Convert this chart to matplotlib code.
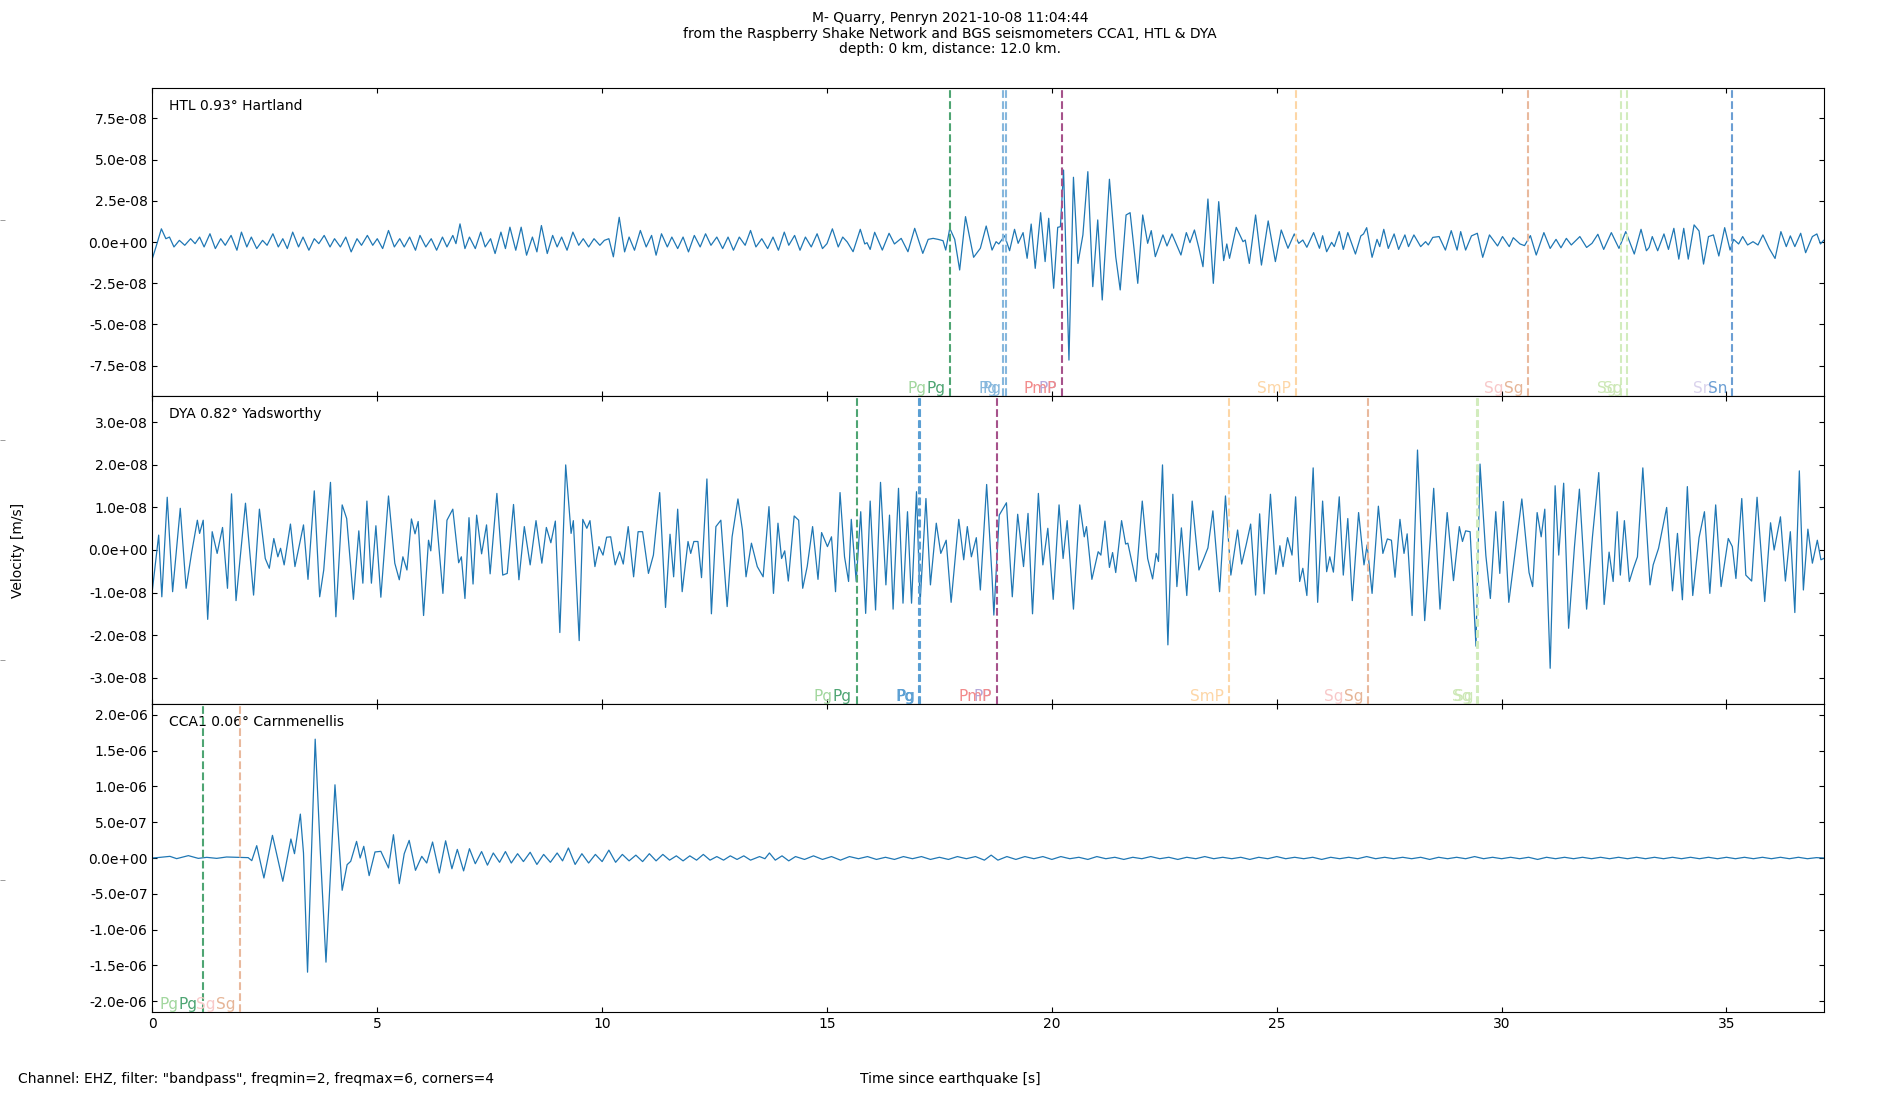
import matplotlib
matplotlib.use("Agg")
import matplotlib.pyplot as plt
from matplotlib.ticker import MultipleLocator, FormatStrFormatter
from matplotlib.transforms import offset_copy
import numpy as np

# ---------------- data ----------------
title_lines = ["M- Quarry, Penryn 2021-10-08 11:04:44",
               "from the Raspberry Shake Network and BGS seismometers CCA1, HTL & DYA",
               "depth: 0 km, distance: 12.0 km."]
station_labels = ["HTL 0.93\u00b0 Hartland", "DYA 0.82\u00b0 Yadsworthy", "CCA1 0.06\u00b0 Carnmenellis"]
x_label = "Time since earthquake [s]"
y_label = "Velocity [m/s]"
footer = 'Channel: EHZ, filter: "bandpass", freqmin=2, freqmax=6, corners=4'
x_max = 37.16

# traces: (time s, velocity) ; HTL and DYA in 1e-8 m/s, CCA1 in 1e-7 m/s
htl_unit = 1e-8
htl_trace = [
(0.00,-1.0),(0.08,-0.3),(0.20,0.8),(0.30,0.2),(0.38,0.3),(0.48,-0.3),(0.60,0.1),(0.72,-0.2),(0.85,0.2),(0.95,-0.1),
(1.05,0.3),(1.15,-0.3),(1.28,0.5),(1.40,-0.4),(1.52,0.2),(1.62,-0.2),(1.75,0.4),(1.88,-0.5),(1.98,0.6),(2.10,-0.3),
(2.20,0.3),(2.32,-0.4),(2.45,0.1),(2.55,-0.2),(2.68,0.5),(2.80,-0.3),(2.90,0.2),(3.00,-0.4),(3.12,0.6),(3.25,-0.3),
(3.35,0.3),(3.48,-0.5),(3.60,0.2),(3.70,-0.1),(3.82,0.4),(3.95,-0.3),(4.05,0.2),(4.18,-0.3),(4.30,0.3),(4.42,-0.6),
(4.55,0.2),(4.65,-0.2),(4.78,0.4),(4.90,-0.2),(5.00,0.2),(5.12,-0.4),(5.25,0.7),(5.38,-0.3),(5.50,0.2),(5.60,-0.3),
(5.72,0.3),(5.85,-0.5),(5.95,0.4),(6.08,-0.3),(6.20,0.2),(6.32,-0.5),(6.45,0.3),(6.55,-0.3),(6.68,0.4),(6.75,-0.1),
(6.84,1.1),(6.95,-0.4),(7.05,0.3),(7.18,-0.4),(7.30,0.6),(7.40,-0.3),(7.52,0.2),(7.62,-0.7),(7.75,0.6),(7.85,-0.4),
(7.95,0.9),(8.08,-0.5),(8.20,0.9),(8.32,-0.8),(8.45,0.3),(8.55,-0.6),(8.65,1.0),(8.78,-0.7),(8.90,0.4),(9.00,-0.3),
(9.10,0.3),(9.22,-0.5),(9.35,0.6),(9.48,-0.2),(9.58,0.2),(9.70,-0.3),(9.82,0.2),(9.95,-0.2),(10.05,0.1),(10.15,0.2),
(10.25,-0.9),(10.38,1.5),(10.50,-0.6),(10.60,0.3),(10.72,-0.5),(10.85,0.7),(10.98,-0.3),(11.10,0.4),(11.20,-0.8),(11.32,0.5),
(11.45,-0.3),(11.55,0.3),(11.68,-0.4),(11.80,0.3),(11.92,-0.6),(12.05,0.4),(12.18,-0.3),(12.30,0.5),(12.42,-0.2),(12.55,0.3),
(12.68,-0.4),(12.80,0.3),(12.92,-0.5),(13.05,0.3),(13.18,-0.2),(13.30,0.7),(13.42,-0.3),(13.55,0.2),(13.68,-0.4),(13.80,0.3),
(13.92,-0.5),(14.05,0.6),(14.15,-0.2),(14.28,0.4),(14.40,-0.5),(14.52,0.3),(14.65,-0.3),(14.78,0.5),(14.90,-0.4),(15.00,-0.1),
(15.12,0.8),(15.25,-0.3),(15.35,0.3),(15.45,0.0),
(15.58,-0.59),(15.74,0.77),(15.84,-0.12),(15.89,-0.04),(15.96,-0.45),(16.06,0.59),(16.23,-0.49),(16.38,0.53),(16.50,-0.12),(16.65,0.22),
(16.80,-0.59),(16.95,0.83),(17.13,-0.69),(17.25,0.16),(17.36,0.22),(17.47,0.16),(17.58,0.08),(17.64,-0.49),(17.73,0.83),(17.84,0.16),
(17.95,-1.70),(18.08,1.54),(18.26,-0.93),(18.41,-0.38),(18.54,0.97),(18.67,-0.49),(18.76,0.02),(18.82,-0.12),(18.95,0.38),(19.06,-0.53),
(19.17,0.77),(19.25,-0.08),(19.36,0.57),(19.45,-0.99),(19.54,1.09),(19.63,-1.60),(19.75,1.78),(19.85,-1.19),(19.93,1.44),(20.04,-2.81),
(20.13,0.89),(20.19,0.93),(20.26,4.37),(20.38,-7.17),(20.48,3.93),(20.58,-1.30),(20.69,0.43),(20.80,4.27),(20.91,-2.71),(21.02,1.34),
(21.12,-3.52),(21.28,3.81),(21.42,-0.89),(21.52,-2.91),(21.65,1.64),(21.74,1.78),(21.91,-2.51),(22.02,1.64),(22.13,-0.08),(22.21,0.69),
(22.30,-0.89),(22.47,0.43),(22.56,-0.24),(22.67,0.49),(22.87,-0.79),(22.99,0.57),(23.07,-0.04),(23.17,0.73),(23.27,-0.38),(23.36,-1.50),
(23.47,2.61),(23.59,-2.51),(23.71,2.45),(23.82,-1.13),(23.89,-0.12),(23.95,-0.99),(24.10,0.89),(24.25,0.02),(24.30,0.12),(24.39,-1.30),
(24.53,1.64),(24.66,-1.40),(24.81,1.28),(24.97,-1.19),(25.10,0.73),(25.25,-0.38),(25.39,0.49),(25.49,-0.08),(25.58,0.12),(25.67,-0.32),
(25.82,0.57),(25.95,-0.38),(26.02,0.38),(26.11,-0.59),(26.22,-0.02),(26.28,-0.28),(26.39,0.63),(26.48,-0.45),(26.58,0.57),
(26.75,-0.73),(26.87,0.37),(26.93,0.49),(27.00,0.87),(27.12,-0.93),(27.23,0.16),(27.29,-0.28),(27.38,0.77),(27.48,-0.39),(27.61,0.49),
(27.71,-0.45),(27.85,0.43),(27.93,-0.28),(28.05,0.43),(28.20,-0.28),(28.31,0.02),(28.37,-0.18),(28.47,0.28),(28.61,0.33),(28.75,-0.49),
(28.88,0.69),(29.01,-0.49),(29.09,0.63),(29.20,-0.49),(29.33,0.37),(29.46,0.53),(29.58,-0.93),(29.73,0.43),(29.91,-0.24),(30.02,0.33),
(30.17,-0.28),(30.26,0.26),(30.41,-0.12),(30.51,-0.22),(30.64,0.39),(30.77,-0.79),(30.94,0.57),(31.08,-0.39),(31.21,0.16),(31.32,-0.35),
(31.44,0.22),(31.55,-0.18),(31.74,0.33),(31.89,-0.33),(32.01,-0.08),(32.14,0.47),(32.27,-0.45),(32.44,0.57),(32.61,-0.39),(32.76,0.63),
(32.95,-0.73),(33.10,0.77),(33.22,-0.53),(33.28,-0.33),(33.35,0.33),(33.47,-0.53),(33.61,0.49),(33.71,-0.45),(33.83,0.83),(33.94,-1.04),
(34.05,0.83),(34.15,-1.04),(34.28,1.04),(34.39,0.67),(34.49,-1.34),(34.60,0.33),(34.71,0.43),(34.83,-0.85),(34.96,0.87),(35.08,-0.49),
(35.16,0.16),(35.27,-0.12),(35.36,0.33),(35.47,-0.18),(35.59,0.02),(35.70,-0.18),(35.81,0.43),(35.95,-0.39),(36.08,-1.00),(36.21,0.63),
(36.33,-0.28),(36.42,0.37),(36.52,-0.28),(36.65,0.53),(36.76,-0.65),(36.91,0.33),(37.01,0.49),(37.09,-0.12),(37.16,0.10),
]

dya_unit = 1e-8
dya_trace = [
(0.00,-0.94),(0.14,0.35),(0.21,-1.10),(0.33,1.24),(0.45,-0.98),(0.62,0.98),(0.75,-0.90),(0.87,-0.08),(1.00,0.70),(1.05,0.39),
(1.13,0.70),(1.23,-1.63),(1.33,0.43),(1.44,-0.08),(1.56,0.53),(1.67,-0.90),(1.76,1.32),(1.86,-1.19),(2.07,1.10),(2.25,-1.06),
(2.38,0.96),(2.51,-0.20),(2.60,-0.43),(2.70,0.27),(2.79,-0.16),(2.85,0.04),(2.93,-0.35),(3.07,0.61),(3.17,-0.39),(3.36,0.59),
(3.46,-0.69),(3.60,1.39),(3.72,-1.10),(3.81,-0.47),(3.96,1.59),(4.08,-1.57),(4.22,1.06),(4.32,0.74),(4.47,-1.16),(4.59,0.45),
(4.68,-0.78),(4.77,1.15),(4.87,-0.78),(4.97,0.57),(5.08,-1.11),(5.25,1.27),(5.39,-0.31),(5.49,-0.70),(5.57,-0.16),(5.66,-0.47),
(5.76,0.73),(5.84,0.38),(5.91,0.67),(6.03,-1.54),(6.14,0.23),(6.19,-0.02),(6.28,1.17),(6.46,-1.02),(6.55,0.70),(6.68,0.96),
(6.81,-0.30),(6.87,-0.16),(6.95,-1.14),(7.04,0.76),(7.13,-0.80),(7.21,0.82),(7.32,-0.09),(7.43,0.59),(7.51,-0.56),(7.66,1.33),
(7.79,-0.59),(7.89,-0.55),(8.03,1.07),(8.15,-0.70),(8.27,0.55),(8.40,-0.35),(8.53,0.69),(8.66,-0.31),(8.76,0.53),(8.86,0.17),
(8.96,0.68),(9.06,-1.94),(9.19,2.00),(9.31,0.39),(9.36,0.69),(9.49,-2.13),(9.57,0.72),(9.66,0.51),(9.73,0.69),(9.84,-0.39),
(9.93,0.08),(10.02,-0.12),(10.10,0.30),(10.19,0.31),(10.29,-0.35),(10.39,-0.04),(10.47,-0.33),(10.58,0.55),(10.70,-0.63),(10.80,0.43),
(10.90,0.43),(11.03,-0.55),(11.14,-0.12),(11.28,1.35),(11.41,-1.35),(11.51,0.37),(11.59,-0.63),(11.68,0.96),(11.78,-0.98),(11.91,0.20),
(11.97,-0.08),(12.04,0.20),(12.13,0.20),(12.21,-0.65),(12.33,1.67),(12.43,-1.50),(12.53,0.55),(12.64,0.70),(12.78,-1.33),(12.89,0.31),
(13.02,1.20),(13.12,0.47),(13.20,-0.63),(13.32,0.16),(13.45,-0.39),(13.58,-0.63),(13.71,1.02),(13.81,-1.02),(13.91,0.63),(13.99,-0.20),
(14.06,-0.02),(14.14,-0.73),(14.27,0.80),(14.37,0.70),(14.46,-0.90),(14.56,-0.39),(14.68,0.55),(14.80,-0.69),(14.88,0.41),(15.01,0.08),
(15.10,0.31),(15.19,-0.98),(15.29,1.35),(15.39,-0.16),(15.48,-0.74),(15.54,0.72),(15.65,-0.74),(15.75,0.90),(15.86,-1.49),(15.96,1.15),
(16.08,-1.41),(16.19,1.59),(16.31,-0.82),(16.39,0.82),(16.47,-1.39),(16.59,1.45),(16.69,-1.25),(16.79,0.90),(16.88,-1.25),(16.99,1.37),
(17.07,-1.25),(17.20,1.21),(17.30,-0.82),(17.43,0.63),(17.53,-0.08),(17.65,0.23),(17.76,-1.23),(17.93,0.72),(18.04,-0.23),(18.12,0.55),
(18.21,-0.16),(18.32,0.29),(18.41,-0.94),(18.55,1.54),(18.67,-0.63),(18.71,-1.53),(18.83,0.82),(18.99,1.11),(19.12,-1.10),(19.24,0.84),
(19.37,-0.39),(19.47,0.86),(19.57,-1.50),(19.70,1.33),
(19.80,-0.35),(19.91,0.51),(20.03,-1.16),(20.16,1.06),(20.25,-0.20),(20.34,0.69),(20.48,-1.39),(20.62,1.06),(20.72,0.31),(20.77,0.55),
(20.89,-0.69),(21.03,-0.04),(21.09,-0.12),(21.18,0.68),(21.28,-0.41),(21.35,-0.06),(21.42,-0.53),(21.55,0.69),(21.64,0.14),(21.69,0.16),
(21.87,-0.74),(22.01,1.15),(22.13,-0.20),(22.24,-0.68),(22.32,-0.08),(22.37,-0.27),(22.46,2.00),(22.58,-2.23),(22.69,1.31),(22.78,-0.86),
(22.88,0.52),(23.00,-1.07),(23.12,1.15),(23.27,-0.47),(23.37,-0.22),(23.47,0.05),(23.58,0.92),(23.73,-0.98),(23.86,1.27),(23.98,-0.59),
(24.13,0.47),(24.22,-0.33),(24.32,0.12),(24.42,0.61),(24.53,-1.06),(24.62,0.85),(24.72,-1.03),(24.86,1.31),(24.98,-0.57),(25.07,0.10),
(25.14,-0.39),(25.24,0.29),(25.34,-0.12),(25.42,1.25),(25.51,-0.74),(25.58,-0.43),(25.67,-1.07),(25.81,1.93),(25.91,-1.23),(26.02,1.15),
(26.11,-0.51),(26.18,-0.16),(26.26,-0.52),(26.39,1.25),(26.48,-0.59),(26.58,0.74),(26.68,-1.19),(26.82,0.88),(26.94,-0.35),(27.01,0.12),
(27.12,-1.02),(27.26,1.03),(27.36,-0.08),(27.46,0.26),(27.55,0.23),(27.63,-0.64),(27.74,0.72),(27.83,-0.08),(27.90,0.38),(28.01,-1.54),
(28.13,2.35),(28.29,-1.66),(28.49,1.45),(28.63,-1.39),(28.79,0.88),(28.93,-0.72),(29.06,0.55),(29.13,0.20),(29.20,0.45),(29.30,0.43),
(29.43,-2.26),(29.52,2.02),(29.65,-0.13),(29.75,-1.14),(29.87,0.90),(29.96,-0.55),(30.04,1.14),(30.16,-1.23),(30.45,1.20),(30.61,-0.53),
(30.69,-0.86),(30.79,0.88),(30.88,0.31),(30.96,0.96),(31.08,-2.78),(31.19,1.51),(31.27,-0.12),(31.38,1.57),(31.49,-1.84),(31.62,0.08),
(31.73,1.43),(31.89,-1.39),(32.02,0.31),(32.16,1.82),(32.28,-1.28),(32.39,-0.05),(32.48,-0.74),(32.57,0.90),(32.64,-0.59),(32.73,0.69),
(32.84,-0.74),(32.93,-0.43),(33.02,-0.16),(33.14,1.93),(33.30,-0.82),(33.37,-0.35),(33.49,0.04),(33.67,1.00),(33.80,-0.96),(33.91,0.39),
(34.02,-1.17),(34.13,1.49),(34.25,-1.07),(34.39,0.29),(34.51,0.90),(34.63,-1.02),(34.76,1.06),(34.88,-0.86),(35.04,0.27),(35.13,0.08),
(35.21,-0.67),(35.34,1.21),(35.43,-0.59),(35.56,-0.73),(35.68,1.24),(35.85,-1.21),(35.98,0.64),(36.06,0.00),(36.20,0.78),(36.31,-0.73),
(36.42,0.43),(36.52,-1.47),(36.62,1.86),(36.71,-0.94),(36.81,0.49),(36.91,-0.31),(37.02,0.23),(37.10,-0.23),(37.16,-0.20),
]

cca_unit = 1e-7
cca_trace = [
(0.00,0.00),(0.17,0.09),(0.39,0.23),(0.54,-0.09),(0.80,0.33),(1.02,-0.05),(1.21,0.09),(1.43,-0.05),(1.65,0.14),(1.95,0.09),
(2.13,0.05),(2.21,-0.37),(2.32,1.72),(2.48,-2.79),(2.67,3.16),(2.90,-3.25),(3.08,2.65),(3.16,0.60),(3.29,6.13),(3.36,0.70),
(3.45,-15.94),(3.62,16.59),(3.73,1.39),(3.86,-14.54),(4.06,10.22),(4.22,-4.51),(4.33,-0.93),(4.41,-0.46),(4.54,2.32),(4.62,0.00),
(4.70,1.63),(4.82,-2.46),(4.95,0.84),(5.08,0.93),(5.25,-1.39),(5.36,3.25),(5.49,-3.58),(5.60,0.60),(5.71,2.46),(5.85,-1.72),
(5.99,0.23),(6.10,-0.70),(6.23,2.23),(6.38,-2.09),(6.52,2.40),(6.66,-1.50),(6.78,1.20),(6.92,-1.80),(7.05,1.30),(7.18,-0.80),
(7.32,0.90),(7.45,-1.00),(7.58,0.70),(7.72,-0.60),(7.85,0.90),(7.98,-0.70),(8.12,0.60),(8.25,-0.50),(8.40,0.80),(8.55,-0.90),
(8.70,0.50),(8.85,-0.60),(9.00,0.70),(9.12,-0.40),(9.25,1.40),(9.40,-0.90),(9.55,0.60),(9.70,-0.70),(9.85,0.50),(10.00,-0.50),
(10.15,1.10),(10.30,-0.60),(10.45,0.50),(10.60,-0.40),(10.75,0.40),(10.90,-0.50),(11.05,0.60),(11.20,-0.40),(11.35,0.50),(11.50,-0.30),
(11.65,0.30),(11.80,-0.40),(11.95,0.30),(12.10,-0.30),(12.25,0.50),(12.40,-0.30),(12.55,0.20),(12.70,-0.30),(12.85,0.30),(13.00,-0.20),
(13.15,0.30),(13.30,-0.30),(13.50,0.20),(13.62,-0.10),(13.72,0.70),(13.85,-0.30),(14.00,0.30),(14.15,-0.40),(14.30,0.20),(14.50,-0.20),
(14.70,0.30),(14.90,-0.20),(15.10,0.20),(15.30,-0.30),(15.50,0.20),(15.70,-0.10),(15.90,0.20),(16.10,-0.20),(16.30,0.10),(16.50,-0.20),
(16.70,0.20),(16.90,-0.10),(17.10,0.20),(17.30,-0.20),(17.50,0.10),(17.70,-0.20),(17.90,0.20),(18.10,-0.10),(18.30,0.20),(18.50,-0.30),
(18.65,0.40),(18.80,-0.30),(19.00,0.20),(19.20,-0.20),(19.40,0.20),(19.60,-0.10),(19.80,0.20),(20.00,-0.20),(20.20,0.20),(20.40,-0.10),
(20.60,0.10),(20.80,-0.20),(21.00,0.20),(21.20,-0.10),(21.40,0.10),(21.60,-0.20),(21.80,0.10),(22.00,-0.10),(22.20,0.20),(22.40,-0.10),
(22.60,0.10),(22.80,-0.20),(23.00,0.10),(23.20,-0.10),(23.40,0.20),(23.60,-0.10),(23.80,0.10),(24.00,-0.10),(24.20,0.10),(24.40,-0.20),
(24.60,0.10),(24.80,-0.10),(25.00,0.20),(25.20,-0.10),(25.40,0.10),(25.60,-0.10),(25.80,0.10),(26.00,-0.20),(26.20,0.10),(26.40,-0.10),
(26.60,0.10),(26.80,-0.10),(27.00,0.20),(27.20,-0.10),(27.40,0.10),(27.60,-0.10),(27.80,0.10),(28.00,-0.10),(28.20,0.10),(28.40,-0.20),
(28.60,0.10),(28.80,-0.10),(29.00,0.10),(29.20,-0.10),(29.40,0.20),(29.60,-0.10),(29.80,0.10),(30.00,-0.10),(30.20,0.10),(30.40,-0.10),
(30.60,0.10),(30.80,-0.20),(31.00,0.10),(31.20,-0.10),(31.40,0.10),(31.60,-0.10),(31.80,0.10),(32.00,-0.10),(32.20,0.10),(32.40,-0.10),
(32.60,0.10),(32.80,-0.10),(33.00,0.10),(33.20,-0.10),(33.40,0.10),(33.60,-0.10),(33.80,0.10),(34.00,-0.10),(34.20,0.10),(34.40,-0.10),
(34.60,0.10),(34.80,-0.10),(35.00,0.10),(35.20,-0.10),(35.40,0.10),(35.60,-0.10),(35.80,0.10),(36.00,-0.10),(36.20,0.10),(36.40,-0.10),
(36.60,0.10),(36.80,-0.10),(37.00,0.05),(37.16,0.00),
]

# phase arrivals (s) and their names
htl_arrival_t = [17.74, 18.91, 18.99, 20.23, 25.43, 30.59, 32.66, 32.79, 35.13]
htl_arrival_phase = ["Pg", "Pg", "Pg", "PmP", "SmP", "Sg", "Sg", "Sg", "Sn"]
dya_arrival_t = [15.66, 17.05, 17.07, 18.77, 23.94, 27.04, 29.45, 29.48]
dya_arrival_phase = ["Pg", "Pg", "Pg", "PmP", "SmP", "Sg", "Sg", "Sg"]
cca_arrival_t = [1.12, 1.95]
cca_arrival_phase = ["Pg", "Sg"]
# second-model labels attached to an arrival: (arrival index, phase)
htl_extra = [(0, "Pg"), (3, "PP"), (5, "Sg"), (8, "Sn")]
dya_extra = [(0, "Pg"), (3, "PP"), (5, "Sg")]
cca_extra = [(0, "Pg"), (1, "Sg")]

y_limits = [9.35e-8, 3.62e-8, 2.15e-6]
y_steps = [2.5e-8, 1.0e-8, 5.0e-7]

# ---------------- styles ----------------
htl_line_colors = ["#4ea573", "#86b7dd", "#86b7dd", "#a6528b", "#fdd6a6", "#e9b99d", "#d2ecbd", "#d2ecbd", "#6b9ed3"]
htl_label_colors = ["#4ea573", "#86b7dd", "#86b7dd", "#f28b8b", "#fdd6a6", "#e6b597", "#cde8b6", "#cde8b6", "#6b9ed3"]
dya_line_colors = ["#4ea573", "#5b9fd3", "#5b9fd3", "#a6528b", "#fdd6a6", "#e9b99d", "#d2ecbd", "#d2ecbd"]
dya_label_colors = ["#4ea573", "#5b9fd3", "#5b9fd3", "#f28b8b", "#fdd6a6", "#e6b597", "#cde8b6", "#cde8b6"]
cca_line_colors = ["#4ea573", "#e9b99d"]
cca_label_colors = ["#4ea573", "#e6b597"]
extra_colors = {"Pg": "#a2d79e", "PP": "#b5a8db", "Sg": "#f8c9c9", "Sn": "#dad3ed"}
# where the extra label sits relative to the main label: (anchor fraction, pixel pad)
extra_anchor = {"Pg": (0.0, 0), "PP": (1.0, 0), "Sg": (0.0, 0), "Sn": (0.0, 4)}
label_shift = 5
label_size = 11

plt.rcParams["font.family"] = ["DejaVu Sans"]
plt.rcParams["font.size"] = 10

fig = plt.figure(figsize=(19, 11), dpi=100)

bg = fig.add_axes([0, 0, 1, 1], frameon=False)
bg.set_xticks([])
bg.set_yticks([0.2, 0.4, 0.6, 0.8])
bg.tick_params(axis="y", direction="in", labelleft=False, color="0.55", width=0.6)
bg.set_zorder(-1)

left, width, h, bottom = 0.0802, 0.8796, 0.28, 0.08
axes = [fig.add_axes([left, bottom + k * h, width, h]) for k in (2, 1, 0)]

traces = [(htl_trace, htl_unit), (dya_trace, dya_unit), (cca_trace, cca_unit)]
arrivals = [(htl_arrival_t, htl_arrival_phase, htl_line_colors, htl_label_colors, htl_extra),
            (dya_arrival_t, dya_arrival_phase, dya_line_colors, dya_label_colors, dya_extra),
            (cca_arrival_t, cca_arrival_phase, cca_line_colors, cca_label_colors, cca_extra)]

for i, ax in enumerate(axes):
    tr, unit = traces[i]
    arr = np.array(tr)
    ax.plot(arr[:, 0], arr[:, 1] * unit, color="#1f77b4", lw=0.9, zorder=2)
    ax.set_xlim(0, x_max)
    ax.set_ylim(-y_limits[i], y_limits[i])
    ax.yaxis.set_major_locator(MultipleLocator(y_steps[i]))
    ax.yaxis.set_major_formatter(FormatStrFormatter("%.1e"))
    ax.xaxis.set_major_locator(MultipleLocator(5))
    ax.tick_params(direction="in", top=True, right=True, labelsize=10)
    if i < 2:
        ax.tick_params(labelbottom=False)
    ax.text(0.0102, 0.964, station_labels[i], transform=ax.transAxes, va="top", ha="left", fontsize=10)

    at, ph, lc, tc, extra = arrivals[i]
    trans = ax.get_xaxis_transform()
    for t, c in zip(at, lc):
        ax.axvline(t, color=c, ls="--", lw=1.5, zorder=3)
    main_texts = []
    for t, p, c in zip(at, ph, tc):
        tt = offset_copy(trans, fig=fig, x=-label_shift, y=0, units="dots")
        main_texts.append(ax.text(t, 0.0, p, transform=tt, ha="right", va="bottom",
                                  color=c, fontsize=label_size, zorder=5))
    for idx, p in extra:
        fx, pad = extra_anchor[p]
        ax.annotate(p, xy=(fx, 0.0), xycoords=main_texts[idx], xytext=(pad, 0),
                    textcoords="offset pixels", ha="right", va="bottom",
                    color=extra_colors[p], fontsize=label_size, zorder=4, annotation_clip=False)

fig.text(0.5, 0.99, "\n".join(title_lines), ha="center", va="top", fontsize=10, linespacing=1.15)
fig.text(0.0095, 0.5, y_label, rotation=90, ha="center", va="center", fontsize=10)
fig.text(0.5, 0.019, x_label, ha="center", va="center", fontsize=10)
fig.text(0.0097, 0.019, footer, ha="left", va="center", fontsize=10)

fig.savefig("out.png", dpi=100)
